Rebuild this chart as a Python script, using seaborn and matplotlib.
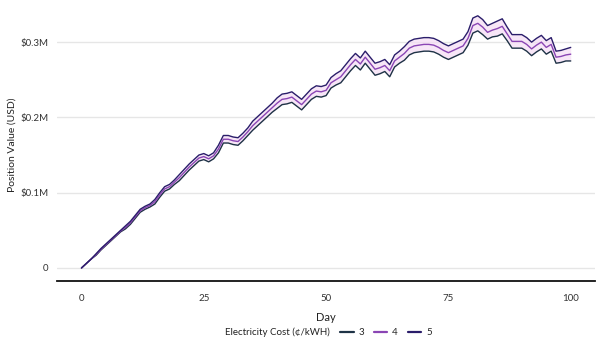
import numpy as np
import pandas as pd
import matplotlib
matplotlib.use("Agg")
import matplotlib.pyplot as plt
import seaborn as sns

# Simulated position value (millions of USD) by day, for three electricity costs
days = list(range(0, 101))

value_cost_4 = [
    0.000, 0.006, 0.012, 0.018, 0.025, 0.031, 0.037, 0.043, 0.049, 0.054,
    0.060, 0.068, 0.076, 0.080, 0.083, 0.088, 0.097, 0.105, 0.108, 0.114,
    0.120, 0.127, 0.134, 0.140, 0.146, 0.148, 0.145, 0.149, 0.158, 0.171,
    0.171, 0.169, 0.168, 0.174, 0.181, 0.189, 0.195, 0.201, 0.207, 0.213,
    0.219, 0.224, 0.225, 0.227, 0.222, 0.217, 0.224, 0.231, 0.235, 0.234,
    0.236, 0.246, 0.250, 0.254, 0.262, 0.270, 0.277, 0.271, 0.280, 0.272,
    0.264, 0.266, 0.269, 0.262, 0.275, 0.280, 0.285, 0.292, 0.295, 0.296,
    0.297, 0.297, 0.296, 0.293, 0.289, 0.286, 0.289, 0.292, 0.295, 0.305,
    0.322, 0.325, 0.320, 0.313, 0.316, 0.318, 0.321, 0.311, 0.301, 0.301,
    0.301, 0.297, 0.291, 0.296, 0.300, 0.293, 0.297, 0.280, 0.281, 0.283,
    0.284,
]

value_cost_5 = [
    0.000, 0.006, 0.012, 0.019, 0.026, 0.032, 0.038, 0.044, 0.050, 0.056,
    0.062, 0.070, 0.078, 0.082, 0.085, 0.091, 0.100, 0.108, 0.111, 0.117,
    0.124, 0.131, 0.138, 0.144, 0.150, 0.152, 0.149, 0.153, 0.163, 0.176,
    0.176, 0.174, 0.173, 0.179, 0.186, 0.195, 0.201, 0.207, 0.213, 0.219,
    0.226, 0.231, 0.232, 0.234, 0.229, 0.224, 0.231, 0.238, 0.242, 0.241,
    0.243, 0.253, 0.258, 0.262, 0.270, 0.278, 0.285, 0.279, 0.288, 0.280,
    0.272, 0.274, 0.277, 0.270, 0.283, 0.288, 0.294, 0.301, 0.304, 0.305,
    0.306, 0.306, 0.305, 0.302, 0.298, 0.295, 0.298, 0.301, 0.304, 0.314,
    0.332, 0.335, 0.330, 0.322, 0.325, 0.328, 0.331, 0.320, 0.310, 0.310,
    0.310, 0.306, 0.300, 0.305, 0.309, 0.302, 0.306, 0.288, 0.289, 0.291,
    0.293,
]

value_cost_3 = [
    0.000, 0.006, 0.012, 0.017, 0.024, 0.030, 0.036, 0.042, 0.048, 0.052,
    0.058, 0.066, 0.074, 0.078, 0.081, 0.085, 0.094, 0.102, 0.105, 0.111,
    0.116, 0.123, 0.130, 0.136, 0.142, 0.144, 0.141, 0.145, 0.153, 0.166,
    0.166, 0.164, 0.163, 0.169, 0.176, 0.183, 0.189, 0.195, 0.201, 0.207,
    0.212, 0.217, 0.218, 0.220, 0.215, 0.210, 0.217, 0.224, 0.228, 0.227,
    0.229, 0.239, 0.243, 0.246, 0.254, 0.262, 0.269, 0.263, 0.272, 0.264,
    0.256, 0.258, 0.261, 0.254, 0.267, 0.272, 0.276, 0.283, 0.286, 0.287,
    0.288, 0.288, 0.287, 0.284, 0.280, 0.277, 0.280, 0.283, 0.286, 0.296,
    0.312, 0.315, 0.310, 0.304, 0.307, 0.308, 0.311, 0.302, 0.292, 0.292,
    0.292, 0.288, 0.282, 0.287, 0.291, 0.284, 0.288, 0.272, 0.273, 0.275,
    0.275,
]

cost_levels = ["3", "4", "5"]
line_colors = {"3": "#1e3346", "4": "#8a45b4", "5": "#2a1d6a"}
band_color = "#f5dcf5"

y_ticks = [0.0, 0.1, 0.2, 0.3]
y_tick_labels = ["0", "$0.1M", "$0.2M", "$0.3M"]
x_ticks = [0, 25, 50, 75, 100]

df = pd.DataFrame({
    "Day": days * 3,
    "Value": value_cost_3 + value_cost_4 + value_cost_5,
    "Cost": ["3"] * len(days) + ["4"] * len(days) + ["5"] * len(days),
})

sns.set_theme(style="white")
plt.rcParams["font.family"] = ["Lato", "DejaVu Sans"]

fig = plt.figure(figsize=(6.0, 3.4), dpi=100)
ax = fig.add_axes([0.095, 0.1735, 0.897, 0.80])

ax.fill_between(days, value_cost_3, value_cost_5, color=band_color,
                alpha=0.7, linewidth=0, zorder=1)

sns.lineplot(data=df, x="Day", y="Value", hue="Cost", hue_order=cost_levels,
             palette=line_colors, linewidth=1.0, ax=ax, legend=False, zorder=3)

ax.set_xlim(-5, 105)
ax.set_ylim(-0.0173, 0.344)
ax.set_xticks(x_ticks)
ax.set_xticklabels([str(t) for t in x_ticks])
ax.set_yticks(y_ticks)
ax.set_yticklabels(y_tick_labels)
ax.tick_params(axis="both", length=0, labelsize=7, colors="#333333")
ax.tick_params(axis="x", pad=9)
ax.tick_params(axis="y", pad=6)

ax.grid(axis="y", color="#e6e6e6", linewidth=1.0)
ax.grid(axis="x", visible=False)
for side in ["top", "right", "left"]:
    ax.spines[side].set_visible(False)
ax.spines["bottom"].set_color("#111111")
ax.spines["bottom"].set_linewidth(1.3)

ax.set_xlabel("Day", fontsize=8, color="#222222", labelpad=7)
ax.set_ylabel("Position Value (USD)", fontsize=7.5, color="#222222", labelpad=3)

# Legend along the bottom edge, title inline with the entries
fig.text(225 / 600, 0.022, "Electricity Cost (¢/kWH)", fontsize=7,
         color="#222222", ha="left", va="center")
handles = [plt.Line2D([], [], color=line_colors[c], linewidth=1.6) for c in cost_levels]
fig.legend(handles, cost_levels, loc="center left", bbox_to_anchor=(340 / 600, 0.022),
           ncol=3, frameon=False, fontsize=7, handlelength=1.4,
           handletextpad=0.5, columnspacing=1.0, borderpad=0, borderaxespad=0)

fig.savefig("out.png", dpi=100)
